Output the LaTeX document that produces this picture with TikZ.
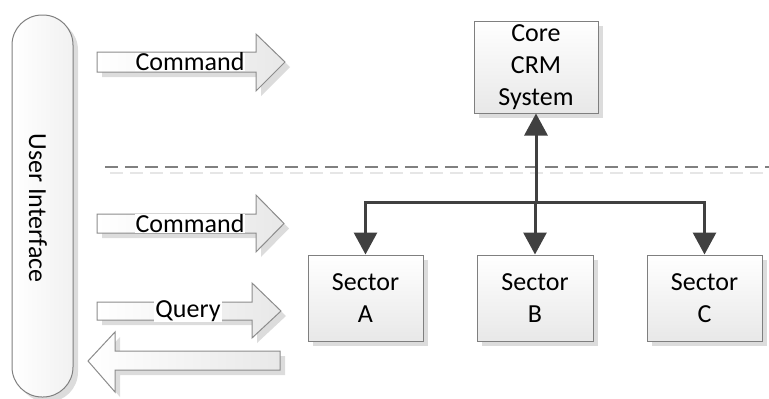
\documentclass[tikz,border=0pt]{standalone}
\usepackage{fontspec}
\setmainfont{Carlito}
\usetikzlibrary{arrows.meta,shadows}
\definecolor{lineC}{HTML}{404040}
\definecolor{borderC}{HTML}{7F7F7F}
\definecolor{shadowC}{HTML}{DCDCDC}
\definecolor{dshadowC}{HTML}{E6E6E6}
\definecolor{fillB}{HTML}{E8E8E8}
\tikzset{
  myshadow/.style={drop shadow={shadow xshift=5pt,shadow yshift=-5pt,fill=shadowC,opacity=1}},
  boxnode/.style={draw=borderC,line width=1pt,top color=white,bottom color=fillB,
    myshadow,align=center,inner sep=0pt,
    font=\fontsize{26}{31.7}\selectfont},
  pill/.style={draw=borderC,line width=1pt,left color=white,right color=fillB!60,
    myshadow,rounded corners=30pt,inner sep=0pt},
  blockarrow/.style={draw=borderC!90,line width=1pt,left color=white,right color=fillB,myshadow},
  arrlabel/.style={fill=white,inner xsep=1pt,inner ysep=0pt,font=\fontsize{26}{31.7}\selectfont},
  conn/.style={draw=lineC,line width=3pt,-{Triangle[length=22pt,width=23pt]}},
  dashline/.style={draw=gray,line width=2pt,dash pattern=on 13pt off 7pt},
  dashshadow/.style={draw=dshadowC,line width=2pt,dash pattern=on 13pt off 7pt},
}
\begin{document}
\begin{tikzpicture}[x=1pt,y=-1pt]
\useasboundingbox (0,0) rectangle (769,399);

% dashed separator
\coordinate (dL) at (105,167);
\coordinate (dR) at (769,167);
\coordinate (dLs) at (110,173);
\coordinate (dRs) at (769,173);
\draw[dashshadow] (dLs) -- (dRs);
\draw[dashline] (dL) -- (dR);

% user interface pill
\node[pill,minimum width=61pt,minimum height=382pt] (ui) at (42.5,206) {};
\node[rotate=-90,font=\fontsize{26}{31.7}\selectfont] (uitext) at (38,208) {User Interface};

% block arrows
\draw[blockarrow] (97,52) -- (256,52) -- (256,34) -- (285,62) -- (256,91) -- (256,72) -- (97,72) -- cycle;
\node[arrlabel] (cmd1) at (190,62) {Command};

\draw[blockarrow] (97,214) -- (256,214) -- (256,195) -- (284,223.5) -- (256,252) -- (256,233) -- (97,233) -- cycle;
\node[arrlabel] (cmd2) at (190,223.5) {Command};

\draw[blockarrow] (97,302) -- (252,302) -- (252,283) -- (281,311) -- (252,338) -- (252,320) -- (97,320) -- cycle;
\node[arrlabel] (query) at (188,311) {Query};

\draw[blockarrow] (280,351) -- (115,351) -- (115,332) -- (88,361) -- (115,392) -- (115,370) -- (280,370) -- cycle;

% boxes
\node[boxnode,minimum width=124pt,minimum height=92pt] (core) at (536,67) {Core\\CRM\\System};
\node[boxnode,minimum width=115pt,minimum height=86pt] (secA) at (365.5,298) {Sector\\A};
\node[boxnode,minimum width=116pt,minimum height=86pt] (secB) at (535,298) {Sector\\B};
\node[boxnode,minimum width=115pt,minimum height=86pt] (secC) at (704.5,298) {Sector\\C};

% connectors
\coordinate (hub) at (536,202);
\draw[conn] (hub) -- (core.south);
\draw[conn] (hub) -| (secA.north);
\draw[conn] (hub) -- (hub -| secB.north) -- (secB.north);
\draw[conn] (hub) -| (secC.north);
\end{tikzpicture}
\end{document}
